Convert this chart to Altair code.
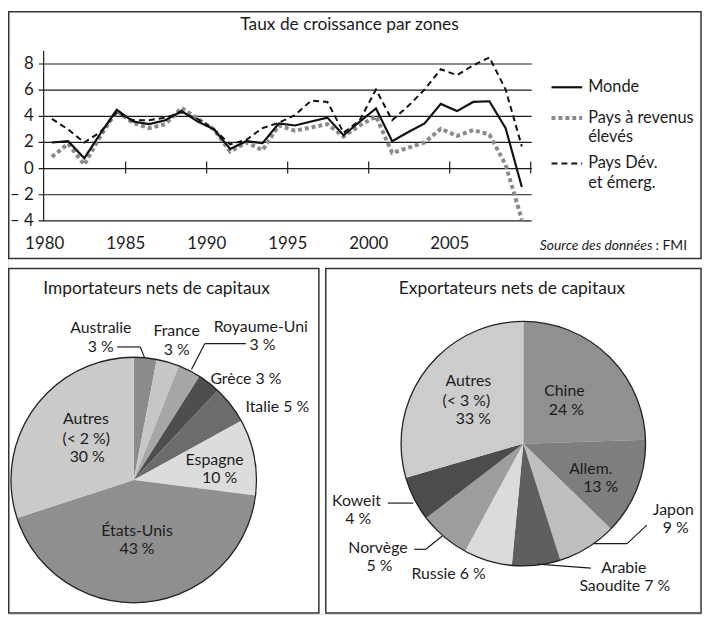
import altair as alt
import pandas as pd

# ---------------- data ----------------
years = list(range(1980, 2010))
monde = [2.0, 2.1, 0.8, 2.7, 4.5, 3.6, 3.4, 3.7, 4.4, 3.6,
         3.0, 1.5, 2.1, 1.95, 3.45, 3.3, 3.6, 3.9, 2.55, 3.6,
         4.6, 2.1, 2.8, 3.45, 4.95, 4.4, 5.1, 5.15, 3.1, -1.4]
eleves = [0.9, 1.9, 0.3, 2.5, 4.4, 3.5, 3.1, 3.4, 4.65, 3.8,
          3.0, 1.3, 2.0, 1.4, 3.3, 2.9, 3.15, 3.4, 2.45, 3.3,
          4.0, 1.2, 1.6, 2.0, 3.05, 2.5, 2.95, 2.6, 0.3, -3.9]
dev = [3.8, 3.0, 2.0, 2.8, 4.3, 3.7, 3.7, 3.9, 4.3, 3.8,
       3.0, 1.85, 2.2, 3.1, 3.5, 4.1, 5.2, 5.1, 2.75, 3.7,
       6.05, 3.7, 4.8, 6.05, 7.6, 7.15, 7.9, 8.5, 6.05, 1.7]
series_names = ["Monde", "Pays à revenus élevés", "Pays Dév. et émerg."]

y_ticks = [-4, -2, 0, 2, 4, 6, 8]
y_tick_labels = ["– 4", "– 2", "0", "2", "4", "6", "8"]
x_label_years = [1980, 1985, 1990, 1995, 2000, 2005]
x_tick_years = [1985, 1990, 1995, 2000, 2005, 2010]

imp_countries = ["Australie", "France", "Royaume-Uni", "Grèce", "Italie",
                 "Espagne", "États-Unis", "Autres"]
imp_shares = [3, 3, 3, 3, 5, 10, 43, 30]
exp_countries = ["Chine", "Allem.", "Japon", "Arabie Saoudite", "Russie",
                 "Norvège", "Koweit", "Autres"]
# slice sizes as drawn in the picture (labels below give the printed values)
exp_shares = [24.5, 12.8, 7.8, 6.4, 6.4, 6.7, 5.9, 29.5]

# ---------------- style ----------------
imp_colors = ["#8b8b8b", "#c6c6c6", "#a6a6a6", "#4e4e4e", "#6c6c6c",
              "#dcdcdc", "#8f8f8f", "#cacaca"]
exp_colors = ["#909090", "#7e7e7e", "#bebebe", "#5f5f5f", "#dbdbdb",
              "#9d9d9d", "#4c4c4c", "#cccccc"]
FONT = "Lato"
INK = "#1c1c1c"
W, H = 701, 609


def X(x):
    # page coordinate -> canvas coordinate (8px page margin)
    return max(x - 8, 0.75)


def Y(y):
    return max(y - 8, 0.75)


xs = alt.Scale(domain=[1980, 2010], range=[X(45), X(536)], nice=False, zero=False)
ys = alt.Scale(domain=[-4, 8], range=[Y(220), Y(61.5)], nice=False, zero=False)

layers = []

# panel borders
panels = pd.DataFrame({
    "x": [X(2), X(2), X(329)], "x2": [X(708), X(322), X(708)],
    "y": [Y(2), Y(268), Y(268)], "y2": [Y(258), Y(616), Y(616)],
})
layers.append(alt.Chart(panels).mark_rect(fillOpacity=0, stroke="#333", strokeWidth=1.5).encode(
    x=alt.X("x:Q", scale=None), x2="x2:Q", y=alt.Y("y:Q", scale=None), y2="y2:Q"))

# gridlines
grid_df = pd.DataFrame({"v": y_ticks, "lab": y_tick_labels})
layers.append(alt.Chart(grid_df).mark_rule(color=INK, strokeWidth=1.2).encode(
    y=alt.Y("v:Q", scale=ys, axis=None), x=alt.value(X(39)), x2=alt.value(X(537))))
layers.append(alt.Chart(grid_df).mark_text(font=FONT, fontSize=17, align="right",
                                           baseline="middle", color=INK).encode(
    y=alt.Y("v:Q", scale=ys, axis=None), x=alt.value(X(34)), text="lab:N"))

# y axis line
layers.append(alt.Chart(pd.DataFrame({"a": [0]})).mark_rule(color=INK, strokeWidth=1.2).encode(
    x=alt.value(X(44)), y=alt.value(Y(48)), y2=alt.value(Y(220))))

# x ticks on zero line
layers.append(alt.Chart(pd.DataFrame({"yr": x_tick_years})).mark_rule(color=INK, strokeWidth=1.2).encode(
    x=alt.X("yr:Q", scale=xs, axis=None), y=alt.value(Y(160)), y2=alt.value(Y(172))))
# x labels
layers.append(alt.Chart(pd.DataFrame({"yr": x_label_years})).mark_text(
    font=FONT, fontSize=17, baseline="middle", color=INK).encode(
    x=alt.X("yr:Q", scale=xs, axis=None), y=alt.value(Y(243)), text="yr:N"))

# lines
line_df = pd.DataFrame({
    "year": years * 3,
    "value": monde + eleves + dev,
    "series": [series_names[0]] * 30 + [series_names[1]] * 30 + [series_names[2]] * 30,
})
line_styles = {
    series_names[1]: dict(color="#8a8a8a", strokeWidth=4, strokeDash=[4, 3]),
    series_names[2]: dict(color="#111", strokeWidth=2, strokeDash=[6, 4]),
    series_names[0]: dict(color="#111", strokeWidth=2.2),
}
for s in [series_names[1], series_names[2], series_names[0]]:
    layers.append(alt.Chart(line_df).transform_filter(alt.datum.series == s).transform_calculate(
        xpos="datum.year + 0.45").mark_line(**line_styles[s]).encode(
        x=alt.X("xpos:Q", scale=xs, axis=None),
        y=alt.Y("value:Q", scale=ys, axis=None)))

# legend
leg_y = {series_names[0]: 85, series_names[1]: 116, series_names[2]: 162}
for s in series_names:
    layers.append(alt.Chart(pd.DataFrame({"a": [0]})).mark_rule(**line_styles[s]).encode(
        x=alt.value(X(557)), x2=alt.value(X(588)), y=alt.value(Y(leg_y[s]))))
texts_top = pd.DataFrame({
    "t": ["Monde", "Pays à revenus", "élevés", "Pays Dév.", "et émerg."],
    "x": [X(594)] * 5,
    "y": [Y(85), Y(116), Y(135), Y(162), Y(182)],
})
layers.append(alt.Chart(texts_top).mark_text(font=FONT, fontSize=16.5, align="left",
                                             baseline="middle", color=INK).encode(
    x=alt.X("x:Q", scale=None), y=alt.Y("y:Q", scale=None), text="t:N"))

# titles
titles = pd.DataFrame({
    "t": ["Taux de croissance par zones", "Importateurs nets de capitaux",
          "Exportateurs nets de capitaux"],
    "x": [X(353), X(158), X(517)],
    "y": [Y(22), Y(288.5), Y(289)],
})
layers.append(alt.Chart(titles).mark_text(font=FONT, fontSize=17.5, baseline="middle", color=INK).encode(
    x=alt.X("x:Q", scale=None), y=alt.Y("y:Q", scale=None), text="t:N"))

# source
layers.append(alt.Chart(pd.DataFrame({"t": ["Source des données"]})).mark_text(
    font=FONT, fontSize=14, fontStyle="italic", align="right", baseline="middle", color=INK).encode(
    x=alt.value(X(659)), y=alt.value(Y(245)), text="t:N"))
layers.append(alt.Chart(pd.DataFrame({"t": [": FMI"]})).mark_text(
    font=FONT, fontSize=14, align="left", baseline="middle", color=INK).encode(
    x=alt.value(X(662)), y=alt.value(Y(245)), text="t:N"))

# pies
PIES = [
    (imp_countries, imp_shares, imp_colors, X(135), Y(481.7), 124),
    (exp_countries, exp_shares, exp_colors, X(528.5), Y(445), 123.5),
]
for cats, vals, cols, pcx, pcy, rad in PIES:
    df = pd.DataFrame({"cat": cats, "val": vals, "idx": list(range(len(cats)))})
    layers.append(alt.Chart(df).mark_arc(radius=rad).encode(
        theta=alt.Theta("val:Q", stack=True),
        color=alt.Color("cat:N", scale=alt.Scale(domain=cats, range=cols), legend=None),
        order=alt.Order("idx:Q"),
        x=alt.value(pcx), y=alt.value(pcy)))
    layers.append(alt.Chart(pd.DataFrame({"a": [0]})).mark_arc(
        radius=rad, theta=0, theta2=6.2832, fillOpacity=0, stroke="#222", strokeWidth=1.3).encode(
        x=alt.value(pcx), y=alt.value(pcy)))

# leader lines
segs = [
    (118.3, 347.3, 141.7, 347.3), (141.7, 347.3, 146, 358.3),
    (248.3, 344, 206.7, 344), (206.7, 344, 193.3, 370),
    (600, 546, 633.3, 546), (633.3, 546, 653.3, 527.3),
    (543.3, 566.7, 596.7, 570.7),
    (418.3, 551.7, 430, 551.7), (430, 551.7, 446.7, 538.3),
    (391.7, 505, 417.3, 505),
]
seg_df = pd.DataFrame({
    "x": [X(s[0]) for s in segs], "y": [Y(s[1]) for s in segs],
    "x2": [X(s[2]) for s in segs], "y2": [Y(s[3]) for s in segs],
})
layers.append(alt.Chart(seg_df).mark_rule(color=INK, strokeWidth=1.2).encode(
    x=alt.X("x:Q", scale=None), y=alt.Y("y:Q", scale=None), x2="x2:Q", y2="y2:Q"))

# pie labels
pie_labels = [
    ("Australie", 101.7, 328.3), ("3 %", 101.7, 347.3),
    ("France", 178.3, 331.7), ("3 %", 178.3, 350.7),
    ("Royaume-Uni", 263.3, 326.7), ("3 %", 265, 345),
    ("Grèce 3 %", 248.3, 379.3), ("Italie 5 %", 280, 408.3),
    ("Autres", 86.7, 420), ("(< 2 %)", 87, 440), ("30 %", 88, 458.3),
    ("Espagne", 216.7, 461.7), ("10 %", 221.7, 480),
    ("États-Unis", 138.3, 533.3), ("43 %", 138.3, 551.7),
    ("Autres", 473, 382), ("(< 3 %)", 471, 401.7), ("33 %", 478, 420),
    ("Chine", 570, 391.7), ("24 %", 572, 411),
    ("Allem.", 596.7, 471), ("13 %", 606.7, 489),
    ("Japon", 680, 511.7), ("9 %", 682.5, 530.7),
    ("Arabie", 630, 570.7), ("Saoudite 7 %", 631, 589.3),
    ("Russie 6 %", 453, 576.7),
    ("Norvège", 381.7, 550), ("5 %", 383.3, 568.3),
    ("Koweit", 360, 502.7), ("4 %", 361.7, 520.7),
]
pl_df = pd.DataFrame({
    "t": [p[0] for p in pie_labels],
    "x": [X(p[1]) for p in pie_labels],
    "y": [Y(p[2]) for p in pie_labels],
})
layers.append(alt.Chart(pl_df).mark_text(font=FONT, fontSize=16, baseline="middle", color=INK).encode(
    x=alt.X("x:Q", scale=None), y=alt.Y("y:Q", scale=None), text="t:N"))

chart = alt.layer(*layers).resolve_scale(
    x="independent", y="independent", theta="independent", color="independent"
).properties(
    width=W, height=H, padding=0, autosize=alt.AutoSizeParams(type="none")
).configure_view(strokeWidth=0).configure(background="white")

chart.save("out.html", embed_options={"renderer": "svg", "actions": False})
